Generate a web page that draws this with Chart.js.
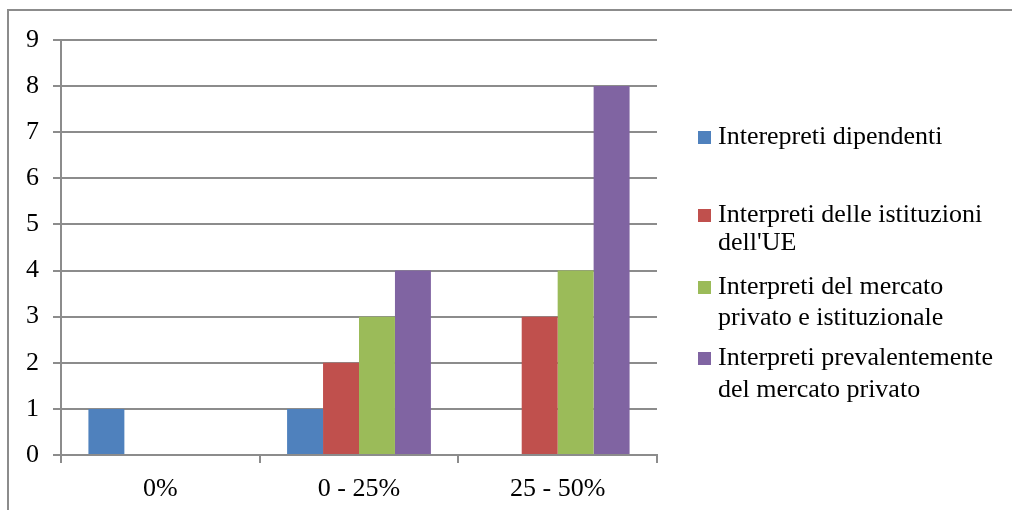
<!DOCTYPE html>
<html>
<head>
<meta charset="utf-8">
<script src="https://cdn.jsdelivr.net/npm/chart.js@4/dist/chart.umd.min.js"></script>
<style>
  html, body { margin: 0; padding: 0; background: #fff; }
  #wrap { width: 1012px; height: 510px; position: relative; }
</style>
</head>
<body>
<div id="wrap"><canvas id="myChart"></canvas></div>
<script>
var categorie = ['0%', '0 - 25%', '25 - 50%'];

var dipendenti = [1, 1, 0];
var istituzioniUE = [0, 2, 3];
var mercatoIstituzionale = [0, 3, 4];
var mercatoPrivato = [0, 4, 8];

// righe della legenda (gia' spezzate come nell'originale)
var etichette = [
	['Interepreti dipendenti'],
	['Interpreti delle istituzioni', "dell'UE"],
	['Interpreti del mercato', 'privato e istituzionale'],
	['Interpreti prevalentemente', 'del mercato privato']
];
var colori = ['#4F81BD', '#C0504D', '#9BBB59', '#8064A2'];

var font = 'Liberation Serif';
var grigio = '#8c8c8c';

// cornice grigia e legenda disegnate a mano
var cornice = {
	id: 'cornice',
	beforeDraw: function(chart) {
		var ctx = chart.ctx;
		ctx.save();
		ctx.strokeStyle = grigio;
		ctx.lineWidth = 2;
		ctx.beginPath();
		ctx.moveTo(8, 510);
		ctx.lineTo(8, 10);
		ctx.lineTo(1012, 10);
		ctx.stroke();
		ctx.restore();
	},
	afterDraw: function(chart) {
		var ctx = chart.ctx;
		var righe = [[137], [215, 243], [287, 318], [358, 390]];
		ctx.save();
		ctx.font = '26px "' + font + '"';
		ctx.textBaseline = 'middle';
		for (var i = 0; i < etichette.length; i++) {
			ctx.fillStyle = colori[i];
			ctx.fillRect(698, righe[i][0] - 6, 13, 13);
			ctx.fillStyle = '#000';
			for (var j = 0; j < etichette[i].length; j++) {
				ctx.fillText(etichette[i][j], 718, righe[i][j]);
			}
		}
		ctx.restore();
	}
};

var serie = [dipendenti, istituzioniUE, mercatoIstituzionale, mercatoPrivato];
var datasets = [];
for (var k = 0; k < serie.length; k++) {
	datasets.push({
		label: etichette[k].join(' '),
		backgroundColor: colori[k],
		borderWidth: 0,
		data: serie[k],
		categoryPercentage: 0.724,
		barPercentage: 1
	});
}

var grafica = new Chart(document.getElementById('myChart'), {
	type: 'bar',
	data: {
		labels: categorie,
		datasets: datasets
	},
	options: {
		responsive: true,
		maintainAspectRatio: false,
		animation: false,
		layout: { padding: { left: 0, top: 40, right: 355, bottom: 0 } },
		plugins: {
			legend: { display: false },
			tooltip: { enabled: false }
		},
		scales: {
			x: {
				grid: {
					offset: true,
					drawOnChartArea: false,
					drawTicks: true,
					tickLength: 8,
					color: grigio,
					lineWidth: 2
				},
				border: { color: grigio, width: 2 },
				ticks: {
					color: '#000',
					padding: 11,
					font: { family: font, size: 26 }
				},
				afterFit: function(scale) { scale.height = 55; }
			},
			y: {
				min: 0,
				max: 9,
				grid: {
					color: grigio,
					lineWidth: 2,
					tickLength: 8
				},
				border: { color: grigio, width: 2 },
				ticks: {
					stepSize: 1,
					color: '#000',
					padding: 14,
					font: { family: font, size: 26 }
				},
				afterFit: function(scale) { scale.width = 61; }
			}
		}
	},
	plugins: [cornice]
});
</script>
</body>
</html>
